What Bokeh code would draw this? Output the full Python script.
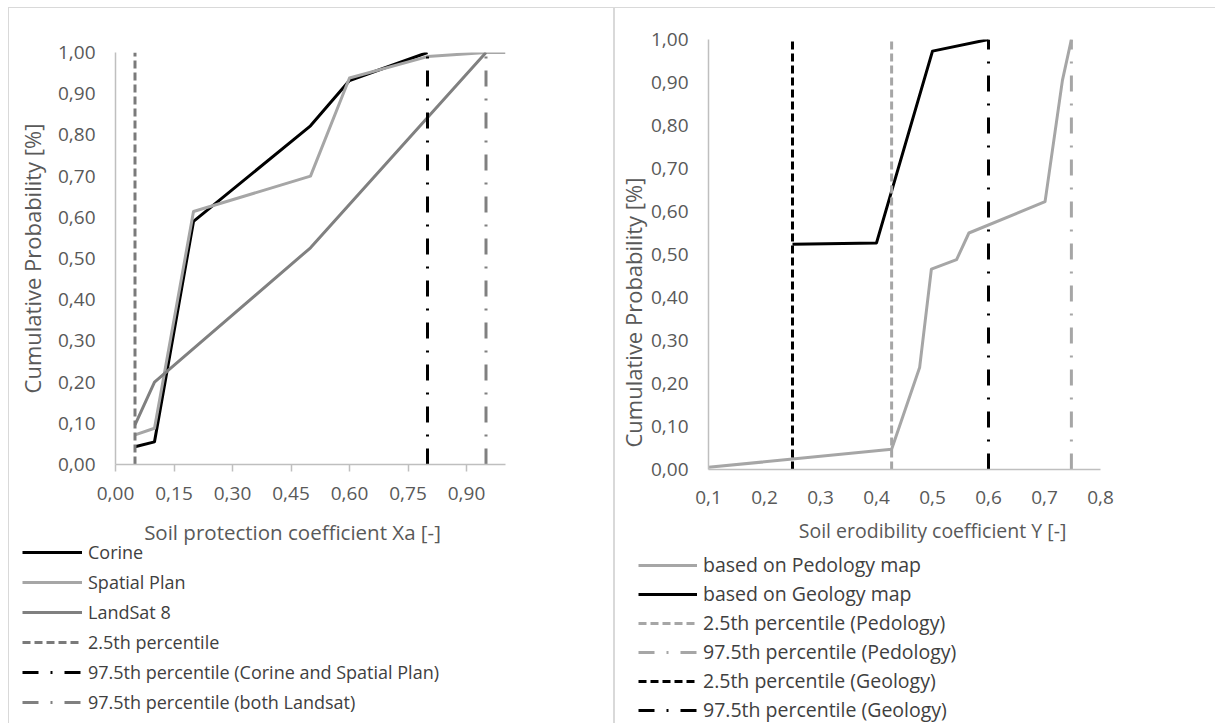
from bokeh.plotting import figure
from bokeh.models import (Range1d, FixedTicker, CustomJSTickFormatter, Legend,
                          LegendItem, Title, Label)
from bokeh.layouts import row, column
from bokeh.embed import file_html
from bokeh.resources import INLINE

FONT = "Open Sans"

# ---------------- Left chart data: soil protection coefficient Xa ----------------
corine_x = [0.05, 0.10, 0.20, 0.50, 0.60, 0.80]
corine_y = [0.043, 0.055, 0.59, 0.822, 0.932, 1.00]
spatial_x = [0.05, 0.10, 0.20, 0.50, 0.60, 0.80, 0.95, 1.00]
spatial_y = [0.072, 0.088, 0.614, 0.70, 0.938, 0.99, 1.00, 1.00]
landsat_x = [0.05, 0.10, 0.50, 0.95]
landsat_y = [0.096, 0.20, 0.526, 1.00]
xa_p025 = 0.05
xa_p975_corine = 0.80
xa_p975_landsat = 0.95
xa_ticks = [0.0, 0.15, 0.30, 0.45, 0.60, 0.75, 0.90]
prob_ticks = [0.0, 0.1, 0.2, 0.3, 0.4, 0.5, 0.6, 0.7, 0.8, 0.9, 1.0]
prob_span = [0.0, 1.0]
left_labels = ["Corine", "Spatial Plan", "LandSat 8", "2.5th percentile",
               "97.5th percentile (Corine and Spatial Plan)",
               "97.5th percentile (both Landsat)"]

# ---------------- Right chart data: soil erodibility coefficient Y ----------------
pedology_x = [0.10, 0.427, 0.477, 0.498, 0.543, 0.565, 0.701, 0.732, 0.748]
pedology_y = [0.005, 0.047, 0.237, 0.466, 0.488, 0.55, 0.623, 0.905, 1.00]
geology_x = [0.25, 0.40, 0.50, 0.60]
geology_y = [0.524, 0.527, 0.973, 1.00]
y_p025_ped = 0.427
y_p975_ped = 0.748
y_p025_geo = 0.25
y_p975_geo = 0.60
y_ticks = [0.1, 0.2, 0.3, 0.4, 0.5, 0.6, 0.7, 0.8]
right_labels = ["based on Pedology map", "based on Geology map",
                "2.5th percentile (Pedology)", "97.5th percentile (Pedology)",
                "2.5th percentile (Geology)", "97.5th percentile (Geology)"]

AXIS_COL = "#bfbfbf"
TICK_TXT = "#595959"
LEG_TXT = "#404040"
BORDER = "1px solid #d9d9d9"
BLACK = "#000000"
LIGHT = "#a6a6a6"
MID = "#808080"
PCT = "#7a7a7a"
DASH = "8 4"
DASHDOT = "16 12 2 12"


def fmt(dec):
    return CustomJSTickFormatter(code="return tick.toFixed(%d).replace('.', ',');" % dec)


def base_fig(width, height, xr, yr, ml, mr, mt, mb):
    p = figure(width=width, height=height, x_range=xr, y_range=yr,
               output_backend="svg", toolbar_location=None,
               min_border_left=ml, min_border_right=mr,
               min_border_top=mt, min_border_bottom=mb)
    p.frame_align = False
    p.outline_line_color = None
    p.grid.visible = False
    return p


def legend_fig(width, height):
    f = figure(width=width, height=height, output_backend="svg", toolbar_location=None,
               x_axis_location=None, y_axis_location=None, min_border=0,
               x_range=Range1d(0, 1), y_range=Range1d(0, 1))
    f.frame_align = False
    f.outline_line_color = None
    f.grid.visible = False
    return f


def style_axis(ax, ticks, dec, size, standoff, tick_out):
    ax.ticker = FixedTicker(ticks=ticks)
    ax.formatter = fmt(dec)
    ax.axis_line_color = AXIS_COL
    ax.axis_line_width = 1.5
    ax.major_tick_in = 0
    ax.major_tick_out = tick_out
    ax.major_tick_line_color = AXIS_COL if tick_out else None
    ax.major_tick_line_width = 1.5
    ax.minor_tick_line_color = None
    ax.major_label_text_font = FONT
    ax.major_label_text_font_size = size
    ax.major_label_text_color = TICK_TXT
    ax.major_label_standoff = standoff


def make_legend(f, series, labels, loc, size, spacing, gw):
    # legend keys: hidden copies of the series (drawn in the chart above)
    items = []
    for (xs, ys, col, dash), lab in zip(series, labels):
        r = f.line(xs, ys, line_color=col, line_width=3, line_dash=dash, visible=False)
        items.append(LegendItem(label=lab, renderers=[r]))
    leg = Legend(items=items, location=loc, orientation="vertical", padding=0, margin=0,
                 spacing=spacing, glyph_width=gw, glyph_height=18, label_height=18,
                 label_standoff=6, label_text_font=FONT, label_text_font_size=size,
                 label_text_color=LEG_TXT, border_line_color=None,
                 background_fill_alpha=0, inactive_fill_alpha=0)
    f.add_layout(leg, "center")


# ================= Left panel =================
p1 = base_fig(606, 505, Range1d(0, 1.0), Range1d(0, 1.0), 106, 110, 44, 49)
p1.margin = (7, 0, 0, 8)
style_axis(p1.xaxis[0], xa_ticks, 2, "19px", 15, 7)
style_axis(p1.yaxis[0], prob_ticks, 2, "19px", 20, 0)
p1.yaxis[0].axis_label = "Cumulative Probability [%]"
p1.yaxis[0].axis_label_text_font = FONT
p1.yaxis[0].axis_label_text_font_size = "22px"
p1.yaxis[0].axis_label_text_font_style = "normal"
p1.yaxis[0].axis_label_text_color = TICK_TXT
p1.yaxis[0].axis_label_standoff = 8

left_series = [
    (corine_x, corine_y, BLACK, "solid"),
    (spatial_x, spatial_y, LIGHT, "solid"),
    (landsat_x, landsat_y, MID, "solid"),
    ([xa_p025, xa_p025], prob_span, PCT, DASH),
    ([xa_p975_corine, xa_p975_corine], prob_span, BLACK, DASHDOT),
    ([xa_p975_landsat, xa_p975_landsat], prob_span, MID, DASHDOT),
]
for xs, ys, col, dash in left_series:
    p1.line(xs, ys, line_color=col, line_width=3, line_dash=dash, line_join="round")
p1.styles = {"border-left": BORDER, "border-top": BORDER, "border-right": BORDER}

l1 = legend_fig(606, 211)
l1.margin = (0, 0, 0, 8)
l1.add_layout(Label(x=283, y=192, x_units="screen", y_units="screen",
                    text="Soil protection coefficient Xa [-]", text_align="center",
                    text_baseline="middle", text_font=FONT, text_font_size="20.5px",
                    text_color=TICK_TXT))
make_legend(l1, left_series, left_labels, (13, 9), "18px", 6, 60)
l1.styles = {"border-left": BORDER, "border-right": BORDER}

# ================= Right panel =================
p2 = base_fig(601, 509, Range1d(0.1, 0.8), Range1d(0, 1.0), 90, 116, 31, 48)
p2.margin = (7, 0, 0, 0)
style_axis(p2.xaxis[0], y_ticks, 1, "19px", 21, 0)
style_axis(p2.yaxis[0], prob_ticks, 2, "19px", 20, 0)
p2.add_layout(Title(text="Cumulative Probability [%]", align="left", offset=22,
                    standoff=0, text_font=FONT, text_font_size="22px",
                    text_font_style="normal", text_color=TICK_TXT), "left")

right_series = [
    (pedology_x, pedology_y, LIGHT, "solid"),
    (geology_x, geology_y, BLACK, "solid"),
    ([y_p025_ped, y_p025_ped], prob_span, LIGHT, DASH),
    ([y_p975_ped, y_p975_ped], prob_span, LIGHT, DASHDOT),
    ([y_p025_geo, y_p025_geo], prob_span, BLACK, DASH),
    ([y_p975_geo, y_p975_geo], prob_span, BLACK, DASHDOT),
]
for xs, ys, col, dash in right_series:
    p2.line(xs, ys, line_color=col, line_width=3, line_dash=dash, line_join="round")
p2.styles = {"border-left": BORDER, "border-top": BORDER}

l2 = legend_fig(601, 207)
l2.add_layout(Label(x=317, y=193, x_units="screen", y_units="screen",
                    text="Soil erodibility coefficient Y [-]", text_align="center",
                    text_baseline="middle", text_font=FONT, text_font_size="19.5px",
                    text_color=TICK_TXT))
make_legend(l2, right_series, right_labels, (23, 0), "19.5px", 2, 59)
l2.styles = {"border-left": BORDER}

layout = row(column(p1, l1), column(p2, l2))
open("out.html", "w").write(file_html(layout, INLINE))
